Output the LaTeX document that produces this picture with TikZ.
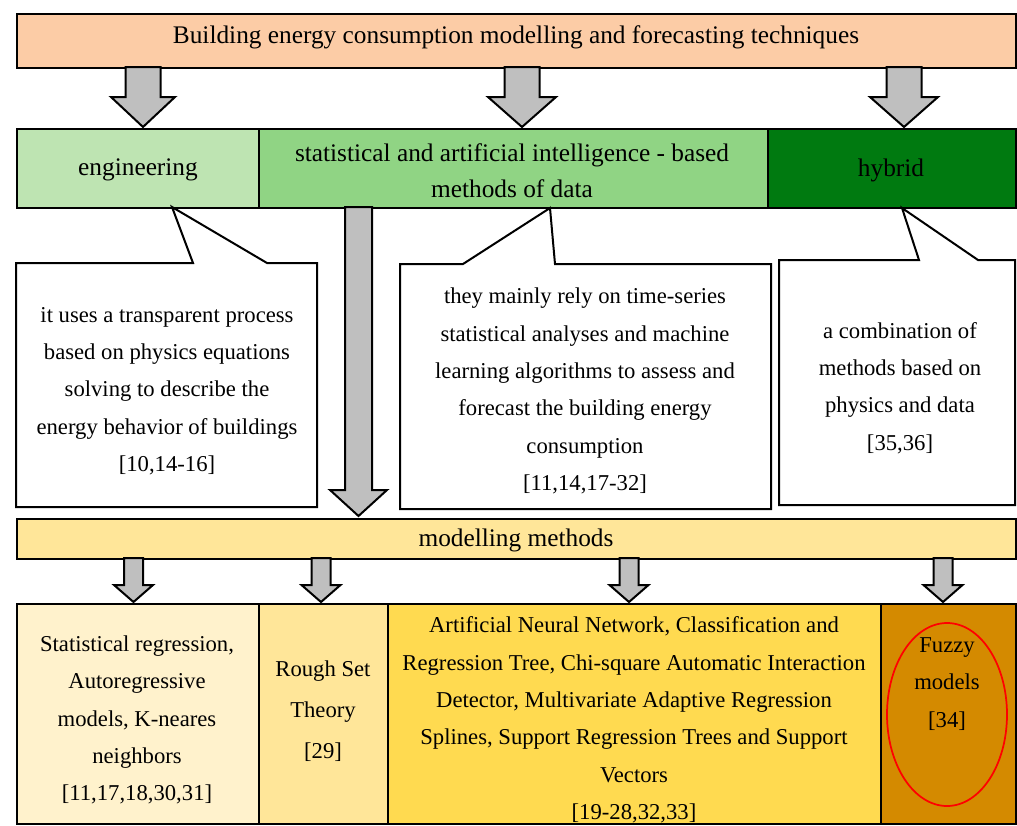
\documentclass[tikz,border=0pt]{standalone}
\usepackage{fontspec}
\setmainfont{Liberation Serif}
\usetikzlibrary{shapes.geometric}
\definecolor{titlefill}{RGB}{252,204,166}
\definecolor{engfill}{RGB}{190,228,178}
\definecolor{statfill}{RGB}{144,212,132}
\definecolor{hybfill}{RGB}{0,122,16}
\definecolor{arrowgray}{RGB}{191,191,191}
\definecolor{modfill}{RGB}{255,230,153}
\definecolor{bonefill}{RGB}{255,242,204}
\definecolor{btwofill}{RGB}{255,230,153}
\definecolor{bthreefill}{RGB}{255,218,80}
\definecolor{bfourfill}{RGB}{212,138,0}
\tikzset{
  box/.style={draw, line width=1.5pt, inner sep=0pt, anchor=north west},
  txt/.style={align=center, inner sep=0pt, font=\fontsize{17}{28}\selectfont},
  htxt/.style={align=center, inner sep=0pt, font=\fontsize{19}{27}\selectfont},
  barrow/.style={draw, line width=1.5pt, fill=arrowgray, line join=miter},
  callout/.style={draw, line width=1.5pt, fill=white, line join=miter}
}
% x centre, y top, y head start, y tip, half shaft, half head
\newcommand{\blockarrow}[6]{%
  \draw[barrow] (#1-#5,#2) -- (#1+#5,#2) -- (#1+#5,#3) -- (#1+#6,#3) -- (#1,#4) -- (#1-#6,#3) -- (#1-#5,#3) -- cycle;}
\begin{document}
\begin{tikzpicture}[x=0.75pt,y=-0.75pt]
\useasboundingbox (0,0) rectangle (1017,825);

% title
\node[box, fill=titlefill, minimum width=749.25pt, minimum height=40.5pt] (titlebox) at (16,13) {};
\node[htxt] (title) at (516,37) {Building energy consumption modelling and forecasting techniques};

% category row
\node[box, fill=engfill, minimum width=181.5pt, minimum height=59.25pt] (engbox) at (16,128) {};
\node[box, fill=statfill, minimum width=381.75pt, minimum height=59.25pt] (statbox) at (258,128) {};
\node[box, fill=hybfill, minimum width=186pt, minimum height=59.25pt] (hybbox) at (767,128) {};
\node[htxt] (eng) at (138,170) {engineering};
\node[htxt] (stat) at (512,171) {statistical and artificial intelligence - based\\methods of data};
\node[htxt] (hyb) at (891,170) {hybrid};

% arrows from title
\blockarrow{143}{67}{97}{127}{17.5}{32}
\blockarrow{522}{67}{97}{127}{17.5}{34}
\blockarrow{904}{67}{97}{127}{17.5}{34}

% long arrow
\blockarrow{358.5}{207}{490}{516}{13.5}{28.5}

% callouts
\draw[callout] (16,263) -- (193,263) -- (172,207) -- (267,263) -- (317,263) -- (317,507) -- (16,507) -- cycle;
\node[txt] (engnote) at (167,391) {it uses a transparent process\\based on physics equations\\solving to describe the\\energy behavior of buildings\\{}[10,14-16]};

\draw[callout] (400,264) -- (463,264) -- (550,208) -- (555,264) -- (771,264) -- (771,509) -- (400,509) -- cycle;
\node[txt] (statnote) at (585,391) {they mainly rely on time-series\\statistical analyses and machine\\learning algorithms to assess and\\forecast the building energy\\consumption\\{}[11,14,17-32]};

\draw[callout] (779,260) -- (919,260) -- (902,208) -- (978,260) -- (1015,260) -- (1015,505) -- (779,505) -- cycle;
\node[txt] (hybnote) at (900,388) {a combination of\\methods based on\\physics and data\\{}[35,36]};

% modelling methods bar
\node[box, fill=modfill, minimum width=749.25pt, minimum height=30pt] (modbox) at (16,518) {};
\node[htxt] (mod) at (516,540) {modelling methods};

% small arrows
\blockarrow{133.5}{558}{585}{602}{9.5}{19.5}
\blockarrow{321}{558}{585}{602}{9.5}{19.5}
\blockarrow{629}{558}{585}{602}{9.5}{19.5}
\blockarrow{943}{558}{585}{602}{9.5}{19.5}

% bottom boxes
\node[box, fill=bonefill, minimum width=181.5pt, minimum height=165pt] (bone) at (16,603) {};
\node[box, fill=btwofill, minimum width=96.75pt, minimum height=165pt] (btwo) at (258,603) {};
\node[box, fill=bthreefill, minimum width=369.75pt, minimum height=165pt] (bthree) at (387,603) {};
\node[box, fill=bfourfill, minimum width=101.25pt, minimum height=165pt] (bfour) at (880,603) {};

\node[txt] (bonetext) at (137,720) {Statistical regression,\\Autoregressive\\models, K-neares\\neighbors\\{}[11,17,18,30,31]};
\node[txt, font=\fontsize{17}{30.5}\selectfont] (btwotext) at (323,711) {Rough Set\\Theory\\{}[29]};
\node[txt] (bthreetext) at (634,720) {Artificial Neural Network, Classification and\\Regression Tree, Chi-square Automatic Interaction\\Detector, Multivariate Adaptive Regression\\Splines, Support Regression Trees and Support\\Vectors\\{}[19-28,32,33]};
\node[txt] (bfourtext) at (947,684) {Fuzzy\\models\\{}[34]};
\node[draw=red, line width=1.3pt, ellipse, minimum width=90pt, minimum height=137.25pt, inner sep=0pt] (fuzzyring) at (947,714.5) {};
\end{tikzpicture}
\end{document}
